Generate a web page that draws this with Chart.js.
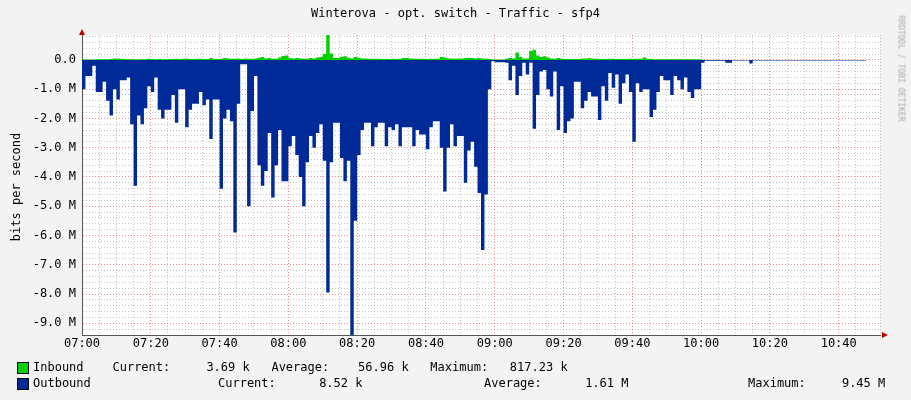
<!DOCTYPE html>
<html>
<head>
<meta charset="utf-8">
<script src="https://cdn.jsdelivr.net/npm/chart.js@4/dist/chart.umd.min.js"></script>
<style>
  body { margin: 0; background: #f3f3f3; font-family: "DejaVu Sans Mono", monospace; }
  #wrap { position: relative; width: 911px; height: 400px; }
  canvas { position: absolute; left: 0; top: 0; }
  .t { position: absolute; font-size: 12px; color: #000; white-space: pre; }
  .box { position: absolute; width: 10px; height: 10px; border: 1px solid #000; }
</style>
</head>
<body>
<div id="wrap">
  <canvas id="trafficChart" width="911" height="400"></canvas>
  <div class="t" style="left:0;width:911px;top:6px;text-align:center;">Winterova - opt. switch - Traffic - sfp4</div>
  <div class="t" style="left:-38px;top:180px;transform:rotate(-90deg);">bits per second</div>
  <div class="t" style="left:848px;top:64px;font-size:8px;color:#aaa;transform:rotate(90deg);">RRDTOOL / TOBI OETIKER</div>
  <div class="box" style="left:17px;top:362px;background:#00cf00;"></div>
  <div class="t" style="left:33px;top:360px;">Inbound    Current:     3.69 k   Average:    56.96 k   Maximum:   817.23 k</div>
  <div class="box" style="left:17px;top:378px;background:#002a97;"></div>
  <div class="t" style="left:33px;top:376px;">Outbound</div>
  <div class="t" style="left:218px;top:376px;">Current:      8.52 k</div>
  <div class="t" style="left:484px;top:376px;">Average:      1.61 M</div>
  <div class="t" style="left:748px;top:376px;">Maximum:     9.45 M</div>
</div>
<script>
// minutes since 07:00, one sample per minute
const timeLabels = { 0: '07:00', 20: '07:20', 40: '07:40', 60: '08:00', 80: '08:20', 100: '08:40',
    120: '09:00', 140: '09:20', 160: '09:40', 180: '10:00', 200: '10:20', 220: '10:40' };

// Outbound in Mbit/s (shown below zero)
const outbound = [
    1.3, 1.0, 0.55, 0.55, 0.2, 1.1, 1.1, 0.75, 1.4, 1.9,
    1.0, 1.35, 0.7, 0.7, 0.6, 2.2, 4.3, 1.9, 2.2, 1.65,
    0.9, 1.1, 0.6, 1.7, 2.0, 1.7, 1.7, 1.2, 2.15, 1.0,
    1.0, 2.3, 1.7, 1.5, 1.5, 1.1, 1.55, 1.35, 2.7, 1.35,
    1.35, 4.4, 2.0, 1.7, 2.1, 5.9, 1.5, 0.15, 0.15, 5.0,
    1.75, 0.55, 3.6, 4.3, 3.8, 2.5, 4.7, 3.6, 2.4, 4.15,
    4.15, 2.95, 2.6, 3.25, 4.0, 5.0, 3.5, 2.6, 3.0, 2.5,
    2.2, 3.45, 7.95, 3.5, 2.15, 2.15, 3.35, 4.15, 3.45, 9.4,
    5.5, 3.25, 2.4, 2.15, 2.15, 2.95, 2.3, 2.15, 2.15, 2.95,
    2.3, 2.4, 2.2, 2.95, 2.3, 2.3, 2.3, 2.95, 2.4, 2.55,
    2.55, 3.05, 2.3, 2.1, 2.1, 3.0, 4.5, 3.0, 2.2, 2.95,
    2.6, 2.6, 4.2, 3.1, 2.8, 3.65, 4.55, 6.5, 4.6, 1.0,
    0.05, 0.08, 0.08, 0.08, 0.1, 0.7, 0.2, 1.2, 0.55, 0.1,
    0.5, 0.1, 2.35, 1.2, 0.4, 0.35, 1.0, 1.25, 0.4, 2.4,
    0.9, 2.5, 2.1, 2.0, 0.75, 0.75, 1.65, 1.4, 1.1, 1.25,
    1.25, 2.05, 0.9, 1.4, 0.45, 0.95, 0.5, 1.5, 0.8, 0.5,
    1.1, 2.8, 0.8, 1.1, 1.0, 1.0, 1.95, 1.7, 1.1, 0.55,
    0.7, 0.7, 1.2, 0.55, 0.7, 1.0, 0.6, 1.1, 1.3, 1.0,
    1.0, 0.1, 0.03, 0.03, 0.03, 0.03, 0.03, 0.03, 0.1, 0.1,
    0.02, 0.02, 0.02, 0.02, 0.02, 0.12, 0.02, 0.02, 0.02, 0.02,
    0.02, 0.02, 0.02, 0.02, 0.02, 0.02, 0.02, 0.02, 0.02, 0.02,
    0.02, 0.02, 0.02, 0.02, 0.02, 0.02, 0.02, 0.02, 0.02, 0.02,
    0.02, 0.02, 0.02, 0.02, 0.02, 0.02, 0.02, 0.02, 0.02
];

// Inbound in Mbit/s
const inbound = [
    0.01, 0.01, 0.01, 0.01, 0.01, 0.02, 0.02, 0.02, 0.02, 0.03,
    0.05, 0.05, 0.04, 0.03, 0.02, 0.02, 0.01, 0.02, 0.02, 0.02,
    0.04, 0.03, 0.02, 0.03, 0.02, 0.02, 0.03, 0.03, 0.04, 0.03,
    0.04, 0.05, 0.03, 0.03, 0.04, 0.04, 0.03, 0.03, 0.06, 0.03,
    0.03, 0.04, 0.06, 0.05, 0.04, 0.04, 0.05, 0.03, 0.05, 0.04,
    0.04, 0.05, 0.07, 0.1, 0.05, 0.06, 0.04, 0.04, 0.08, 0.13,
    0.15, 0.06, 0.05, 0.06, 0.05, 0.04, 0.04, 0.06, 0.05, 0.08,
    0.1, 0.2, 0.85, 0.22, 0.06, 0.06, 0.1, 0.12, 0.07, 0.05,
    0.1, 0.07, 0.05, 0.05, 0.04, 0.04, 0.04, 0.04, 0.03, 0.03,
    0.03, 0.04, 0.03, 0.04, 0.06, 0.06, 0.05, 0.04, 0.04, 0.04,
    0.04, 0.03, 0.04, 0.04, 0.04, 0.1, 0.08, 0.05, 0.05, 0.04,
    0.05, 0.05, 0.06, 0.07, 0.06, 0.05, 0.06, 0.05, 0.04, 0.03,
    0.01, 0.01, 0.01, 0.01, 0.04, 0.06, 0.05, 0.25, 0.1, 0.05,
    0.05, 0.3, 0.35, 0.15, 0.1, 0.12, 0.08, 0.05, 0.04, 0.06,
    0.05, 0.03, 0.03, 0.03, 0.03, 0.03, 0.05, 0.05, 0.06, 0.05,
    0.04, 0.03, 0.03, 0.03, 0.04, 0.04, 0.03, 0.03, 0.03, 0.03,
    0.04, 0.04, 0.04, 0.04, 0.08, 0.04, 0.03, 0.02, 0.02, 0.02,
    0.02, 0.02, 0.02, 0.02, 0.02, 0.02, 0.02, 0.02, 0.02, 0.02,
    0.02, 0.0, 0.0, 0.0, 0.0, 0.0, 0.0, 0.0, 0.0, 0.0,
    0.0, 0.0, 0.0, 0.0, 0.0, 0.0, 0.0, 0.0, 0.0, 0.0,
    0.0, 0.0, 0.0, 0.0, 0.0, 0.0, 0.0, 0.0, 0.0, 0.0,
    0.0, 0.0, 0.0, 0.0, 0.0, 0.0, 0.0, 0.0, 0.0, 0.0,
    0.0, 0.0, 0.0, 0.0, 0.0, 0.0, 0.0, 0.0, 0.0
];

const yMin = -9.4;
const yMax = 0.85;
const xMax = 232;

const outPoints = outbound.map((v, i) => ({ x: i, y: -v }));
const inPoints = inbound.map((v, i) => ({ x: i, y: v }));

// white plot background + small red arrows at the axis ends, like rrdtool
const rrdPlugin = {
    id: 'rrd',
    beforeDraw(chart) {
        const a = chart.chartArea, ctx = chart.ctx;
        ctx.save();
        ctx.fillStyle = '#ffffff';
        ctx.fillRect(a.left, a.top, a.right - a.left, a.bottom - a.top);
        ctx.restore();
    },
    afterDraw(chart) {
        const a = chart.chartArea, ctx = chart.ctx;
        ctx.save();
        ctx.fillStyle = '#c00000';
        ctx.beginPath();
        ctx.moveTo(a.right + 8, a.bottom); ctx.lineTo(a.right + 2, a.bottom - 3); ctx.lineTo(a.right + 2, a.bottom + 3);
        ctx.fill();
        ctx.beginPath();
        ctx.moveTo(a.left, a.top - 6); ctx.lineTo(a.left - 3, a.top); ctx.lineTo(a.left + 3, a.top);
        ctx.fill();
        ctx.restore();
    }
};

const monoFont = { family: 'DejaVu Sans Mono', size: 12 };
const majorGrid = 'rgba(235,90,90,0.7)';
const minorGrid = 'rgba(140,140,140,0.5)';

new Chart(document.getElementById('trafficChart').getContext('2d'), {
    type: 'line',
    data: {
        datasets: [{
            label: 'Inbound',
            data: inPoints,
            borderColor: '#00cf00',
            backgroundColor: '#00cf00',
            borderWidth: 0,
            pointRadius: 0,
            stepped: 'after',
            fill: 'origin'
        }, {
            label: 'Outbound',
            data: outPoints,
            borderColor: '#002a97',
            backgroundColor: '#002a97',
            borderWidth: 0,
            pointRadius: 0,
            stepped: 'after',
            fill: 'origin'
        }]
    },
    options: {
        responsive: false,
        animation: false,
        layout: { padding: { top: 35, right: 31, bottom: 45, left: 0 } },
        plugins: { legend: { display: false }, tooltip: { enabled: false } },
        scales: {
            x: {
                type: 'linear',
                min: 0,
                max: xMax,
                afterFit: s => { s.height = 20; },
                ticks: {
                    stepSize: 5,
                    autoSkip: false,
                    maxRotation: 0,
                    color: '#000',
                    font: monoFont,
                    padding: 2,
                    callback: v => timeLabels[v] || ''
                },
                grid: {
                    color: c => (c.tick && c.tick.value % 20 === 0) ? majorGrid : minorGrid,
                    drawTicks: false
                },
                border: { color: '#555', dash: [1, 2] }
            },
            y: {
                min: yMin,
                max: yMax,
                afterFit: s => { s.width = 82; },
                afterBuildTicks: s => {
                    const t = [];
                    for (let k = -47; k <= 4; k++) t.push({ value: k / 5 });
                    s.ticks = t;
                },
                ticks: {
                    autoSkip: false,
                    color: '#000',
                    font: monoFont,
                    padding: 6,
                    callback: v => {
                        const r = Math.round(v * 5);
                        if (r % 5 !== 0) return '';
                        const n = r / 5;
                        return n === 0 ? '0.0' : n.toFixed(1) + ' M';
                    }
                },
                grid: {
                    color: c => (c.tick && Math.round(c.tick.value * 5) % 5 === 0) ? majorGrid : minorGrid,
                    drawTicks: false
                },
                border: { color: '#555', dash: [1, 2] }
            }
        }
    },
    plugins: [rrdPlugin]
});
</script>
</body>
</html>
